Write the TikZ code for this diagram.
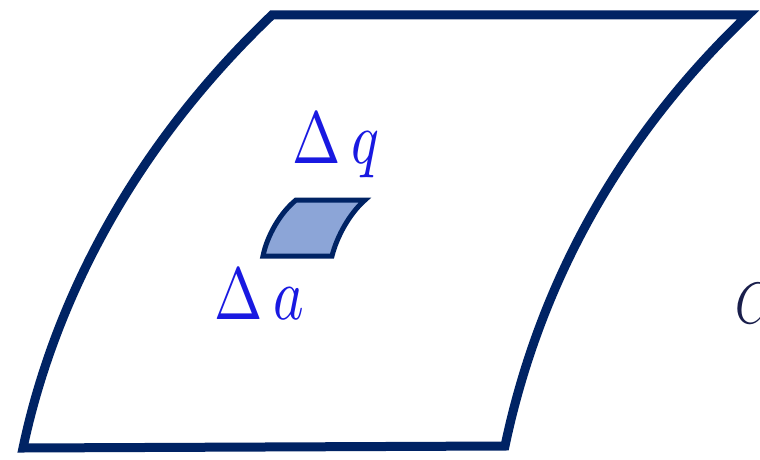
\documentclass[tikz,border=0pt]{standalone}
\begin{document}
\begin{tikzpicture}[x=1pt,y=-1pt,
  outline/.style={draw=navy, line width=9pt, line join=miter},
  patch/.style={draw=navy, fill=patchfill, line width=5pt, line join=miter},
  lbl/.style={inner sep=0pt, anchor=base west, text=lblblue}]
\definecolor{navy}{RGB}{0,35,100}
\definecolor{patchfill}{RGB}{140,165,215}
\definecolor{lblblue}{RGB}{25,25,225}
\definecolor{cnavy}{RGB}{25,30,75}
\useasboundingbox (0,0) rectangle (760,460);
\fill[white] (0,0) rectangle (760,460);
% outer surface
\coordinate (BL) at (23,448);
\coordinate (TL) at (272,15);
\coordinate (TR) at (748,15);
\coordinate (BR) at (505,446);
\draw[outline] (BL) .. controls (50,320) and (120,160) .. (TL)
  -- (TR) .. controls (596,160) and (532,318) .. (BR) -- cycle;
% small patch
\coordinate (pBL) at (263,256);
\coordinate (pTL) at (296,200);
\coordinate (pTR) at (365,200);
\coordinate (pBR) at (332,256);
\draw[patch] (pBL) .. controls (267,236) and (280,213) .. (pTL)
  -- (pTR) .. controls (350,213) and (337,236) .. (pBR) -- cycle;
% labels
\node[lbl] (dq) at (292,163) {\scalebox{5.8}[7.37]{$\Delta\mkern3.5mu q$}};
\node[lbl] (da) at (214,319) {\scalebox{5.8}[7.37]{$\Delta\mkern3.5mu a$}};
\node[lbl, text=cnavy] (C) at (735,323) {\scalebox{4.6}[5.84]{$C$}};
\end{tikzpicture}
\end{document}
